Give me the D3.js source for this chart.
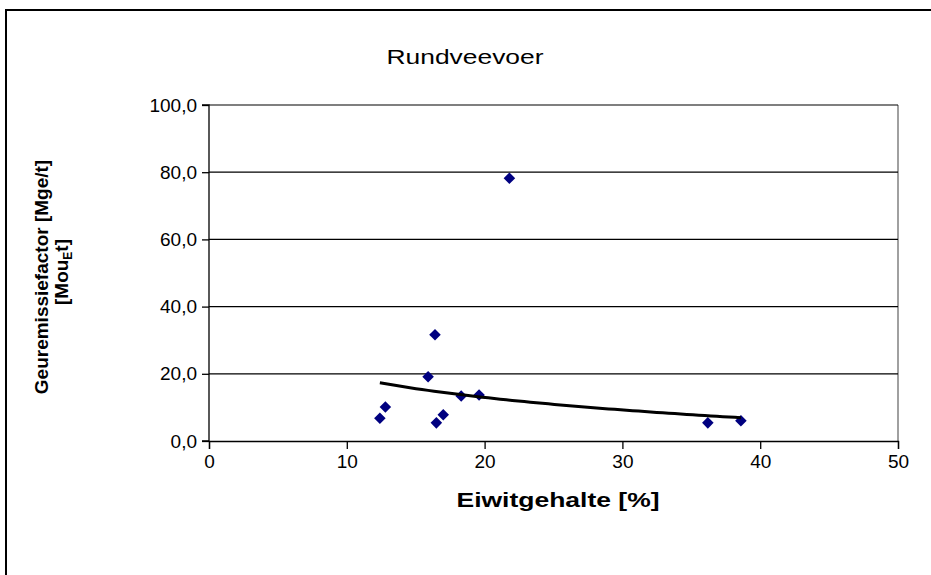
<!DOCTYPE html>
<html>
<head>
<meta charset="utf-8">
<script src="https://cdn.jsdelivr.net/npm/d3@7"></script>
<style>
  html, body { margin: 0; padding: 0; background: #fff; }
  svg { display: block; font-family: Arial, "Liberation Sans", sans-serif; }
</style>
</head>
<body>
<svg id="chart" width="931" height="575"></svg>
<script>
// Rundveevoer: eiwitgehalte vs. geuremissiefactor
const title = "Rundveevoer";
const xLabel = "Eiwitgehalte [%]";
const yLabelLine1 = "Geuremissiefactor [Mge/t]";

const eiwit = [12.4, 12.8, 15.9, 16.4, 16.5, 17.0, 18.3, 19.6, 21.8, 36.2, 38.6];
const geur  = [6.8, 10.1, 19.1, 31.6, 5.4, 7.8, 13.4, 13.7, 78.2, 5.4, 6.0];

// Logarithmic trendline y = a + b * ln(x)
const trendA = 40.4;
const trendB = -9.16;

const xTicks = [0, 10, 20, 30, 40, 50];
const yTicks = [0, 20, 40, 60, 80, 100];

const svg = d3.select("#chart");
const plot = { left: 209, top: 105, right: 898, bottom: 441 };

const x = d3.scaleLinear().domain([0, 50]).range([plot.left, plot.right]);
const y = d3.scaleLinear().domain([0, 100]).range([plot.bottom, plot.top]);
const fmt = d => d3.format(".1f")(d).replace(".", ",");

// Outer chart frame
svg.append("rect")
  .attr("x", 6).attr("y", 10).attr("width", 940).attr("height", 600)
  .attr("fill", "#fff").attr("stroke", "#000").attr("stroke-width", 2);

// Plot area border (right side)
svg.append("line")
  .attr("x1", plot.right).attr("x2", plot.right)
  .attr("y1", plot.top).attr("y2", plot.bottom)
  .attr("stroke", "#808080").attr("stroke-width", 1.5);

// Horizontal gridlines
svg.append("g").selectAll("line")
  .data(yTicks.filter(d => d > 0))
  .join("line")
  .attr("x1", plot.left).attr("x2", plot.right)
  .attr("y1", d => y(d)).attr("y2", d => y(d))
  .attr("stroke", "#000").attr("stroke-width", 1.2);

// Axes
const yAxis = d3.axisLeft(y).tickValues(yTicks).tickFormat(fmt).tickSize(7).tickPadding(5);
const xAxis = d3.axisBottom(x).tickValues(xTicks).tickFormat(d3.format("d")).tickSize(8).tickPadding(6);

const gy = svg.append("g").attr("transform", `translate(${plot.left},0)`).call(yAxis);
const gx = svg.append("g").attr("transform", `translate(0,${plot.bottom})`).call(xAxis);
[gx, gy].forEach(g => {
  g.selectAll("path, line").attr("stroke", "#000").attr("stroke-width", 1.3);
  g.selectAll("text").attr("font-size", 19).attr("fill", "#000")
    .attr("font-family", "Arial, 'Liberation Sans', sans-serif");
});
gy.select(".domain").attr("d", `M-7,${plot.top}H0V${plot.bottom}H-7`);

// Points
const diamond = d3.symbol().type(d3.symbolDiamond2).size(85);
svg.append("g").selectAll("path")
  .data(eiwit.map((v, i) => [v, geur[i]]))
  .join("path")
  .attr("d", diamond)
  .attr("transform", d => `translate(${x(d[0])},${y(d[1])})`)
  .attr("fill", "#000080");

// Trendline over the data range
const xMin = d3.min(eiwit), xMax = d3.max(eiwit);
const trendPts = d3.range(0, 61).map(i => {
  const xv = xMin + (xMax - xMin) * i / 60;
  return [xv, trendA + trendB * Math.log(xv)];
});
svg.append("path")
  .datum(trendPts)
  .attr("d", d3.line().x(d => x(d[0])).y(d => y(d[1])))
  .attr("fill", "none").attr("stroke", "#000").attr("stroke-width", 3);

// Title
svg.append("text")
  .attr("x", 465).attr("y", 64)
  .attr("text-anchor", "middle")
  .attr("font-size", 21)
  .attr("textLength", 157).attr("lengthAdjust", "spacingAndGlyphs")
  .text(title);

// X axis title
svg.append("text")
  .attr("x", 558).attr("y", 507)
  .attr("text-anchor", "middle")
  .attr("font-size", 21).attr("font-weight", "bold")
  .attr("textLength", 203).attr("lengthAdjust", "spacingAndGlyphs")
  .text(xLabel);

// Y axis title (two lines)
const yt = svg.append("text")
  .attr("transform", "rotate(-90)")
  .attr("text-anchor", "middle")
  .attr("font-size", 19).attr("font-weight", "bold");
yt.append("tspan").attr("x", -277).attr("y", 48).text(yLabelLine1);
const l2 = yt.append("tspan").attr("x", -272).attr("y", 68);
l2.append("tspan").text("[Mou");
l2.append("tspan").attr("font-size", 12).attr("dy", 4).text("E");
l2.append("tspan").attr("dy", -4).text("t]");
</script>
</body>
</html>
